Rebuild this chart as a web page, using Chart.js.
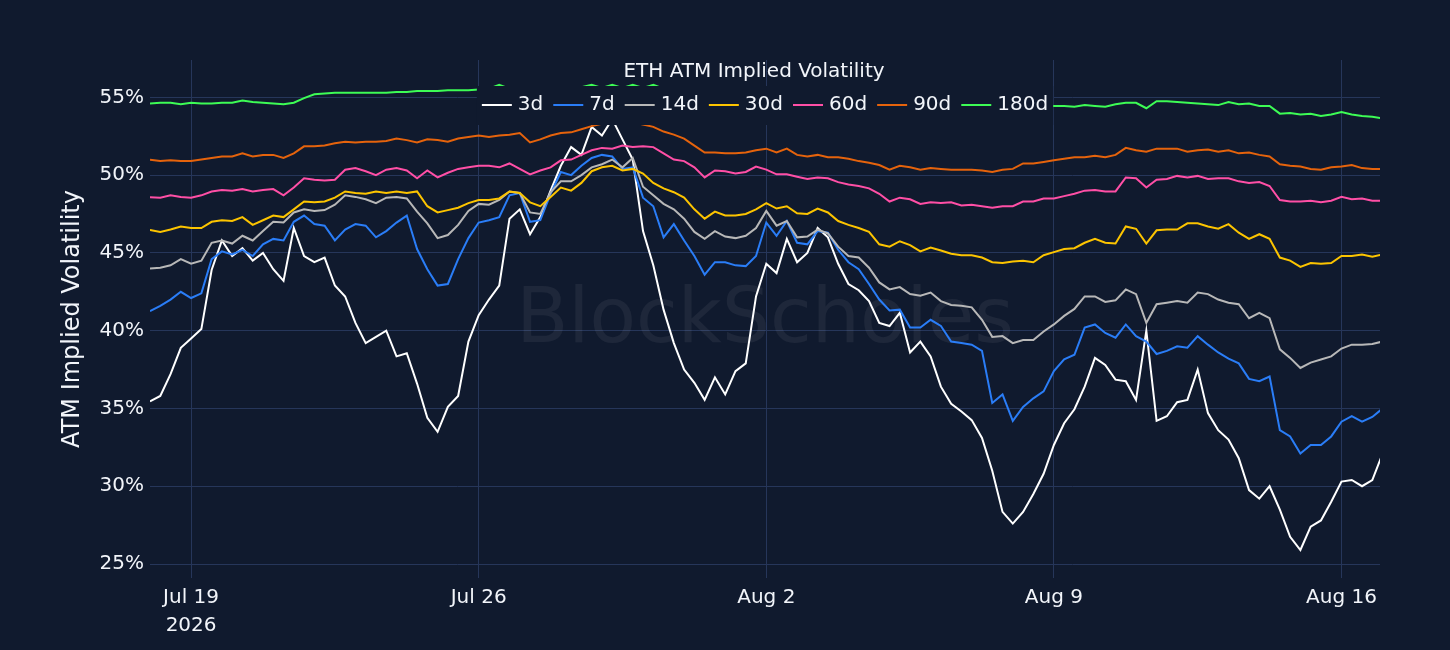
<!DOCTYPE html>
<html lang="en">
<head>
  <meta charset="UTF-8" />
  <title>ETH ATM Implied Volatility</title>
  <script src="https://cdn.jsdelivr.net/npm/chart.js"></script>
  <style>
    html, body { margin: 0; padding: 0; background: #101a2e; }
    #ivChart { display: block; }
  </style>
</head>
<body>
  <canvas id="ivChart" width="1450" height="650"></canvas>

  <script>
    // ATM implied vol (%), one reading every 6 hours from Jul 18 2026 00:00
    const stepHours = 6;

    const iv3d = [
      35.45, 35.8, 37.2, 38.9, 39.5, 40.1, 43.9, 45.8, 44.8, 45.3, 44.5, 45.0, 43.95, 43.2, 46.6, 44.8,
      44.4, 44.7, 42.9, 42.2, 40.5, 39.2, 39.6, 40.0, 38.35, 38.55, 36.6, 34.4, 33.5, 35.1, 35.8,
      39.3, 41.0, 42.0, 42.9, 47.2, 47.8, 46.2, 47.3, 49.0, 50.6, 51.8, 51.3, 53.1, 52.55, 53.6,
      52.3, 51.0, 46.4, 44.2, 41.35, 39.2, 37.5, 36.65, 35.55, 37.0, 35.9, 37.4, 37.9, 42.2, 44.3,
      43.7, 45.9, 44.4, 45.0, 46.6, 46.0, 44.3, 43.0, 42.6, 41.9, 40.5, 40.3, 41.15, 38.6, 39.3,
      38.35, 36.4, 35.3, 34.8, 34.25, 33.1, 31.0, 28.35, 27.6, 28.35, 29.5, 30.8, 32.65, 34.05, 34.95,
      36.4, 38.25, 37.8, 36.85, 36.75, 35.55, 40.0, 34.2, 34.5, 35.4, 35.55, 37.5, 34.7, 33.6, 33.0,
      31.8, 29.75, 29.2, 30.0, 28.5, 26.75, 25.9, 27.4, 27.8, 29.0, 30.3, 30.4, 30.0, 30.4, 32.1
    ];
    const iv7d = [
      41.25, 41.6, 42.0, 42.5, 42.1, 42.4, 44.6, 45.1, 44.9, 45.2, 44.8, 45.55, 45.9, 45.8, 47.0, 47.4,
      46.85, 46.75, 45.8, 46.5, 46.85, 46.75, 46.0, 46.4, 46.95, 47.4, 45.25, 43.95, 42.9, 43.0, 44.6,
      45.95, 46.95, 47.1, 47.3, 48.7, 48.85, 47.0, 47.1, 48.8, 50.2, 50.0, 50.6, 51.1, 51.3, 51.2,
      50.4, 50.5, 48.55, 48.0, 46.0, 46.85, 45.8, 44.8, 43.6, 44.4, 44.4, 44.2, 44.15, 44.8, 46.95,
      46.1, 47.05, 45.65, 45.55, 46.4, 46.3, 45.2, 44.4, 43.95, 43.0, 42.0, 41.3, 41.35, 40.2, 40.2,
      40.7, 40.3, 39.3, 39.2, 39.1, 38.7, 35.35, 35.9, 34.2, 35.1, 35.65, 36.1, 37.4, 38.15, 38.45,
      40.2, 40.4, 39.85, 39.55, 40.4, 39.65, 39.3, 38.5, 38.7, 39.0, 38.9, 39.65, 39.1, 38.6, 38.2,
      37.9, 36.9, 36.75, 37.05, 33.6, 33.2, 32.1, 32.65, 32.65, 33.2, 34.15, 34.5, 34.15, 34.45, 35.0
    ];
    const iv14d = [
      44.0, 44.05, 44.2, 44.6, 44.3, 44.5, 45.65, 45.8, 45.6, 46.1, 45.8, 46.4, 47.0, 46.95, 47.6, 47.8,
      47.7, 47.75, 48.1, 48.7, 48.6, 48.45, 48.2, 48.55, 48.6, 48.5, 47.65, 46.9, 45.95, 46.15, 46.8,
      47.7, 48.15, 48.1, 48.4, 48.95, 48.85, 47.6, 47.5, 48.9, 49.6, 49.6, 50.0, 50.5, 50.7, 51.0,
      50.5, 51.1, 49.25, 48.7, 48.15, 47.8, 47.2, 46.35, 45.9, 46.4, 46.05, 45.95, 46.1, 46.6, 47.7,
      46.75, 47.05, 46.0, 46.05, 46.5, 46.25, 45.4, 44.8, 44.7, 44.05, 43.1, 42.65, 42.8, 42.35, 42.25,
      42.45, 41.9, 41.65, 41.6, 41.5, 40.7, 39.6, 39.65, 39.2, 39.4, 39.4, 39.95, 40.4, 40.95, 41.4,
      42.2, 42.2, 41.85, 41.95, 42.65, 42.35, 40.5, 41.7, 41.8, 41.9, 41.8, 42.45, 42.35, 42.0, 41.8,
      41.7, 40.8, 41.15, 40.8, 38.8, 38.25, 37.6, 37.95, 38.15, 38.35, 38.85, 39.1, 39.1, 39.15, 39.3
    ];
    const iv30d = [
      46.48, 46.35, 46.5, 46.7, 46.6, 46.6, 47.0, 47.1, 47.05, 47.3, 46.8, 47.1, 47.4, 47.3, 47.8, 48.3,
      48.25, 48.3, 48.55, 48.95, 48.85, 48.8, 48.95, 48.85, 48.95, 48.85, 48.95, 48.0, 47.6, 47.75, 47.9,
      48.2, 48.4, 48.4, 48.5, 48.95, 48.85, 48.25, 48.0, 48.6, 49.2, 49.0, 49.5, 50.25, 50.5, 50.6,
      50.3, 50.4, 50.1, 49.5, 49.15, 48.9, 48.55, 47.8, 47.2, 47.65, 47.4, 47.4, 47.5, 47.8, 48.2,
      47.85, 48.0, 47.55, 47.5, 47.85, 47.6, 47.05, 46.8, 46.6, 46.35, 45.55, 45.4, 45.75, 45.5, 45.1,
      45.35, 45.15, 44.95, 44.85, 44.85, 44.7, 44.4, 44.35, 44.45, 44.5, 44.4, 44.85, 45.05, 45.25, 45.3,
      45.65, 45.9, 45.65, 45.6, 46.7, 46.55, 45.6, 46.45, 46.5, 46.5, 46.9, 46.9, 46.7, 46.55, 46.85,
      46.3, 45.9, 46.2, 45.9, 44.7, 44.5, 44.1, 44.35, 44.3, 44.35, 44.8, 44.8, 44.9, 44.75, 44.9
    ];
    const iv60d = [
      48.57, 48.55, 48.7, 48.6, 48.55, 48.7, 48.95, 49.05, 49.0, 49.1, 48.95, 49.05, 49.1, 48.7, 49.2, 49.8,
      49.7, 49.65, 49.7, 50.35, 50.45, 50.25, 50.0, 50.35, 50.45, 50.3, 49.8, 50.3, 49.85, 50.15, 50.4,
      50.5, 50.6, 50.6, 50.5, 50.75, 50.4, 50.05, 50.3, 50.5, 50.95, 51.0, 51.3, 51.6, 51.75, 51.7,
      51.9, 51.8, 51.85, 51.8, 51.4, 51.0, 50.9, 50.5, 49.85, 50.3, 50.25, 50.1, 50.2, 50.55, 50.35,
      50.05, 50.05, 49.9, 49.75, 49.85, 49.8, 49.55, 49.4, 49.3, 49.15, 48.8, 48.3, 48.55, 48.45, 48.15,
      48.25, 48.2, 48.25, 48.05, 48.1, 48.0, 47.9, 48.0, 48.0, 48.3, 48.3, 48.5, 48.5, 48.65, 48.8,
      49.0, 49.05, 48.95, 48.95, 49.85, 49.8, 49.2, 49.7, 49.75, 49.95, 49.85, 49.95, 49.75, 49.8, 49.8,
      49.6, 49.5, 49.55, 49.3, 48.4, 48.3, 48.3, 48.35, 48.25, 48.35, 48.6, 48.45, 48.5, 48.35, 48.35
    ];
    const iv90d = [
      50.98, 50.9, 50.95, 50.9, 50.9, 51.0, 51.1, 51.2, 51.2, 51.4, 51.2, 51.3, 51.3, 51.1, 51.4, 51.85,
      51.85, 51.9, 52.05, 52.15, 52.1, 52.15, 52.15, 52.2, 52.35, 52.25, 52.1, 52.3, 52.25, 52.15, 52.35,
      52.45, 52.55, 52.45, 52.55, 52.6, 52.7, 52.1, 52.3, 52.55, 52.7, 52.75, 52.95, 53.15, 53.3, 53.4,
      53.45, 53.4, 53.25, 53.1, 52.8, 52.6, 52.35, 51.9, 51.45, 51.45, 51.4, 51.4, 51.45, 51.6, 51.7,
      51.45, 51.7, 51.3, 51.2, 51.3, 51.15, 51.15, 51.05, 50.9, 50.8, 50.65, 50.35, 50.6, 50.5, 50.35,
      50.45, 50.4, 50.35, 50.35, 50.35, 50.3, 50.2, 50.35, 50.4, 50.75, 50.75, 50.85, 50.95, 51.05, 51.15,
      51.15, 51.25, 51.15, 51.3, 51.75, 51.6, 51.5, 51.7, 51.7, 51.7, 51.5, 51.6, 51.65, 51.5, 51.6,
      51.4, 51.45, 51.3, 51.2, 50.7, 50.6, 50.55, 50.4, 50.35, 50.5, 50.55, 50.65, 50.45, 50.4, 50.4
    ];
    const iv180d = [
      54.6, 54.65, 54.65, 54.55, 54.65, 54.6, 54.6, 54.65, 54.65, 54.8, 54.7, 54.65, 54.6, 54.55, 54.65, 54.95,
      55.2, 55.25, 55.3, 55.3, 55.3, 55.3, 55.3, 55.3, 55.35, 55.35, 55.4, 55.4, 55.4, 55.45, 55.45,
      55.45, 55.5, 55.55, 55.8, 55.55, 55.5, 55.6, 55.55, 55.6, 55.55, 55.6, 55.65, 55.8, 55.6, 55.8,
      55.6, 55.8, 55.6, 55.8, 55.55, 55.4, 55.3, 55.2, 55.1, 55.0, 54.95, 54.9, 54.9, 54.85, 54.8,
      54.8, 54.75, 54.75, 54.7, 54.7, 54.65, 54.6, 54.6, 54.55, 54.5, 54.5, 54.45, 54.45, 54.4, 54.4,
      54.4, 54.35, 54.35, 54.3, 54.3, 54.3, 54.25, 54.3, 54.3, 54.35, 54.4, 54.45, 54.45, 54.45, 54.4,
      54.5, 54.45, 54.4, 54.55, 54.65, 54.65, 54.3, 54.75, 54.75, 54.7, 54.65, 54.6, 54.55, 54.5, 54.7,
      54.55, 54.6, 54.45, 54.45, 53.95, 54.0, 53.9, 53.95, 53.8, 53.9, 54.05, 53.9, 53.8, 53.75, 53.65
    ];

    const seriesNames = ["3d", "7d", "14d", "30d", "60d", "90d", "180d"];
    const seriesColors = ["#ffffff", "#2a7df7", "#b8b8b8", "#fcc400", "#ff4fa6", "#e5630c", "#3dfc55"];
    const ivSeries = [iv3d, iv7d, iv14d, iv30d, iv60d, iv90d, iv180d];

    // x ticks in hours since Jul 18 00:00
    const tickHours = [24, 192, 360, 528, 696];
    const tickLabels = [["Jul 19", "2026"], "Jul 26", "Aug 2", "Aug 9", "Aug 16"];
    const yTicks = [25, 30, 35, 40, 45, 50, 55];

    const chartTitle = "ETH ATM Implied Volatility";
    const yTitle = "ATM Implied Volatility";
    const watermark = "BlockScholes";

    const BG = "#101a2e";
    const GRID = "#26365a";
    const TEXT = "#f2f5fa";
    const FONT = "'DejaVu Sans', Verdana, sans-serif";

    // watermark under the lines, legend box + title over them
    const overlayPlugin = {
      id: "overlay",
      beforeDatasetsDraw(chart) {
        const { ctx, chartArea } = chart;
        ctx.save();
        ctx.font = `76px ${FONT}`;
        ctx.fillStyle = "rgba(255,255,255,0.06)";
        ctx.textAlign = "center";
        ctx.textBaseline = "middle";
        ctx.fillText(watermark, (chartArea.left + chartArea.right) / 2, (chartArea.top + chartArea.bottom) / 2 + 3);
        ctx.restore();
      },
      afterDatasetsDraw(chart) {
        const { ctx, chartArea } = chart;
        const cx = (chartArea.left + chartArea.right) / 2;
        ctx.save();
        ctx.font = `20px ${FONT}`;
        ctx.textBaseline = "middle";

        // measure legend
        const sample = 30, gap = 6, itemGap = 10;
        const widths = seriesNames.map(n => ctx.measureText(n).width);
        const total = widths.reduce((s, w) => s + sample + gap + w + itemGap, 0) - itemGap;
        let x = cx - total / 2;
        const ly = chartArea.top + 45;

        ctx.fillStyle = BG;
        ctx.fillRect(x - 5, chartArea.top + 26, total + 10, 39);

        seriesNames.forEach((name, i) => {
          ctx.strokeStyle = seriesColors[i];
          ctx.lineWidth = 2;
          ctx.beginPath();
          ctx.moveTo(x, ly);
          ctx.lineTo(x + sample, ly);
          ctx.stroke();
          ctx.fillStyle = TEXT;
          ctx.textAlign = "left";
          ctx.fillText(name, x + sample + gap, ly);
          x += sample + gap + widths[i] + itemGap;
        });

        ctx.textAlign = "center";
        ctx.fillStyle = TEXT;
        ctx.fillText(chartTitle, cx - 11, chartArea.top + 12);
        ctx.restore();
      }
    };

    new Chart(document.getElementById("ivChart"), {
      type: "line",
      data: {
        datasets: ivSeries.map((vals, s) => ({
          label: seriesNames[s],
          data: vals.map((v, i) => ({ x: i * stepHours, y: v })),
          borderColor: seriesColors[s],
          backgroundColor: seriesColors[s],
          borderWidth: 2,
          pointRadius: 0,
          tension: 0,
          order: ivSeries.length - s
        }))
      },
      options: {
        responsive: false,
        animation: false,
        devicePixelRatio: 1,
        layout: { padding: { left: 0, top: 60, right: 70, bottom: 0 } },
        plugins: {
          legend: { display: false },
          title: { display: false },
          tooltip: { enabled: false }
        },
        scales: {
          x: {
            type: "linear",
            min: 0,
            max: 718.5,
            border: { display: false },
            grid: { color: GRID, lineWidth: 1, drawTicks: false },
            ticks: {
              color: TEXT,
              padding: 6,
              maxRotation: 0,
              font: { family: FONT, size: 20, lineHeight: 1.4 },
              callback: (value) => {
                const k = tickHours.indexOf(value);
                return k >= 0 ? tickLabels[k] : "";
              }
            },
            afterBuildTicks: (scale) => {
              scale.ticks = tickHours.map(v => ({ value: v }));
            },
            afterFit: (scale) => { scale.height = 72; }
          },
          y: {
            min: 24.1,
            max: 57.4,
            border: { display: false },
            grid: { color: GRID, lineWidth: 1, drawTicks: false },
            ticks: {
              color: TEXT,
              padding: 6,
              font: { family: FONT, size: 20 },
              callback: (value) => value + "%"
            },
            afterBuildTicks: (scale) => {
              scale.ticks = yTicks.map(v => ({ value: v }));
            },
            afterFit: (scale) => { scale.width = 150; },
            title: {
              display: true,
              text: yTitle,
              color: TEXT,
              font: { family: FONT, size: 24 },
              padding: { top: 58, bottom: 0 }
            }
          }
        }
      },
      plugins: [overlayPlugin]
    });
  </script>
</body>
</html>
